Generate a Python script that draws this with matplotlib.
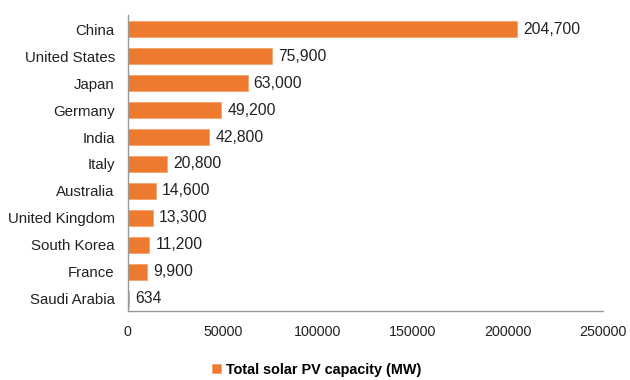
import matplotlib.pyplot as plt
from matplotlib.ticker import FuncFormatter

plt.rcParams['font.family'] = ['Liberation Sans', 'DejaVu Sans']

countries = ['China', 'United States', 'Japan', 'Germany', 'India', 'Italy',
             'Australia', 'United Kingdom', 'South Korea', 'France', 'Saudi Arabia']
capacity_mw = [204700, 75900, 63000, 49200, 42800, 20800,
               14600, 13300, 11200, 9900, 634]

fig = plt.figure(figsize=(6.3, 3.8), dpi=100)
ax = fig.add_axes([0.203, 0.182, 0.754, 0.778])

pos = list(range(len(countries)))
ax.barh(pos, capacity_mw, height=0.6, color='#EE7A30',
        edgecolor='#F5A46E', linewidth=0.6,
        label='Total solar PV capacity (MW)')

# value labels right of each bar
for y, v in zip(pos, capacity_mw):
    ax.text(v + 3200, y, f'{v:,}', va='center', ha='left', fontsize=11.3,
            color='#222222')

ax.set_yticks(pos)
ax.set_yticklabels(countries, fontsize=10.8, color='#222222')
ax.set_ylim(10.45, -0.52)
ax.set_xlim(0, 250000)
ax.set_xticks([0, 50000, 100000, 150000, 200000, 250000])
ax.xaxis.set_major_formatter(FuncFormatter(lambda x, _: f'{int(x)}'))
ax.tick_params(axis='x', labelsize=10.3, colors='#222222', length=0, pad=10)
ax.tick_params(axis='y', length=0, pad=9.4)

for s in ['top', 'right']:
    ax.spines[s].set_visible(False)
for s in ['left', 'bottom']:
    ax.spines[s].set_color('#999999')
    ax.spines[s].set_linewidth(1)

handles, labels = ax.get_legend_handles_labels()
fig.legend(handles, labels, loc='center left',
           bbox_to_anchor=(212 / 630, 1 - 370 / 380),
           frameon=False, borderpad=0, borderaxespad=0,
           handlelength=0.6, handleheight=0.6, handletextpad=0.4,
           prop={'weight': 'bold', 'size': 10.4})

fig.savefig('out.png', dpi=100, facecolor='white')
